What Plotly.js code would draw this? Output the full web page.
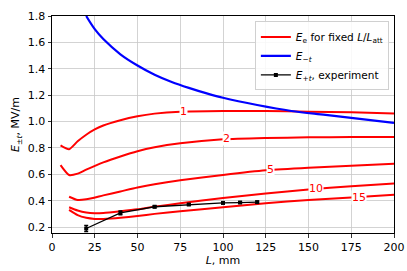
<!DOCTYPE html>
<html>
<head>
<meta charset="utf-8">
<script src="https://cdn.plot.ly/plotly-3.0.1.min.js"></script>
<style>html,body{margin:0;padding:0;background:#fff;}#chart{width:407px;height:271px;}</style>
</head>
<body>
<div id="chart"></div>
<script>
// Red curves: E_e for fixed L/L_att
const L_c1 = [5, 10, 15, 20, 25, 30, 40, 50, 60, 75, 100, 125, 150, 175, 200];
const E_c1 = [0.82, 0.79, 0.85, 0.90, 0.94, 0.97, 1.01, 1.04, 1.06, 1.075, 1.08, 1.08, 1.075, 1.07, 1.06];
const L_c2 = [5, 10, 15, 20, 30, 40, 50, 60, 75, 100, 125, 150, 175, 200];
const E_c2 = [0.67, 0.595, 0.605, 0.635, 0.69, 0.735, 0.775, 0.805, 0.835, 0.865, 0.875, 0.88, 0.882, 0.882];
const L_c5 = [10, 15, 20, 30, 40, 50, 60, 75, 100, 125, 150, 175, 200];
const E_c5 = [0.43, 0.405, 0.41, 0.44, 0.47, 0.50, 0.525, 0.555, 0.595, 0.63, 0.65, 0.665, 0.68];
const L_c10 = [10, 15, 20, 25, 30, 40, 50, 60, 75, 100, 125, 150, 175, 200];
const E_c10 = [0.35, 0.325, 0.31, 0.305, 0.307, 0.32, 0.335, 0.355, 0.38, 0.42, 0.455, 0.485, 0.51, 0.53];
const L_c15 = [10, 15, 20, 25, 30, 40, 50, 60, 75, 100, 125, 150, 175, 200];
const E_c15 = [0.33, 0.29, 0.27, 0.262, 0.262, 0.27, 0.283, 0.30, 0.32, 0.35, 0.38, 0.405, 0.425, 0.445];
// Contour labels (ratio L/L_att) and where they sit
const labelText = ["1", "2", "5", "10", "15"];
const labelL = [77, 102, 127.5, 154.6, 179.5];
const labelE = [1.078, 0.868, 0.635, 0.493, 0.425];
// Blue curve E_-t
const L_minus = [20, 25, 30, 40, 50, 60, 70, 80, 90, 100, 120, 140, 160, 180, 200];
const E_minus = [1.80, 1.70, 1.625, 1.51, 1.425, 1.355, 1.30, 1.255, 1.215, 1.18, 1.125, 1.08, 1.05, 1.02, 0.99];
// Experiment E_+t
const L_exp = [20, 40, 60, 80, 100, 110, 120];
const E_exp = [0.189, 0.307, 0.354, 0.371, 0.383, 0.386, 0.389];
const E_err = [0.024, 0.015, 0.008, 0.007, 0.007, 0.007, 0.007];
// Ticks
const xTicks = [0, 25, 50, 75, 100, 125, 150, 175, 200];
const yTicks = [0.2, 0.4, 0.6, 0.8, 1.0, 1.2, 1.4, 1.6, 1.8];

const redCurves = [[L_c1, E_c1], [L_c2, E_c2], [L_c5, E_c5], [L_c10, E_c10], [L_c15, E_c15]];
const traces = redCurves.map((c, i) => ({
  x: c[0], y: c[1], type: 'scatter', mode: 'lines',
  line: {color: '#ff0000', width: 2, shape: 'spline', smoothing: 0.6},
  name: '<i>E</i><sub>e</sub> for fixed <i>L</i>/<i>L</i><sub>att</sub>',
  legendgroup: 'red', showlegend: i === 0, hoverinfo: 'skip'
}));
traces.push({
  x: L_minus, y: E_minus, type: 'scatter', mode: 'lines',
  line: {color: '#0000ff', width: 2.2, shape: 'spline', smoothing: 1},
  name: '<i>E</i><sub>−<i>t</i></sub>'
});
traces.push({
  x: L_exp, y: E_exp, type: 'scatter', mode: 'lines+markers',
  line: {color: '#000000', width: 1.3},
  marker: {color: '#000000', size: 4, symbol: 'square'},
  error_y: {type: 'data', array: E_err, visible: true, color: '#000000', thickness: 1.3, width: 2},
  name: '<i>E</i><sub>+<i>t</i></sub>, experiment'
});

const annotations = labelText.map((t, i) => ({
  x: labelL[i], y: labelE[i], xref: 'x', yref: 'y', text: t, showarrow: false,
  font: {family: 'DejaVu Sans', size: 11, color: '#ff0000'},
  bgcolor: '#ffffff', borderpad: 0, xanchor: 'center', yanchor: 'middle'
}));

const axisCommon = {
  showgrid: true, gridcolor: '#c8c8c8', gridwidth: 0.8,
  showline: true, linecolor: '#000000', linewidth: 1, mirror: true,
  ticks: 'outside', ticklen: 3.5, tickcolor: '#000000', tickwidth: 0.8,
  zeroline: false, tickfont: {family: 'DejaVu Sans', size: 11, color: '#000000'}
};

const layout = {
  width: 407, height: 271,
  margin: {l: 52, r: 13, t: 16, b: 38},
  paper_bgcolor: '#ffffff', plot_bgcolor: '#ffffff',
  font: {family: 'DejaVu Sans', size: 11, color: '#000000'},
  showlegend: true,
  legend: {
    x: 0.985, y: 0.975, xanchor: 'right', yanchor: 'top',
    bgcolor: 'rgba(255,255,255,0.85)', bordercolor: '#d0d0d0', borderwidth: 1,
    font: {family: 'DejaVu Sans', size: 10.5, color: '#000000'},
    tracegroupgap: 0, itemwidth: 30
  },
  xaxis: Object.assign({}, axisCommon, {
    range: [0, 200], tickvals: xTicks, ticktext: xTicks.map(String),
    title: {text: '<i>L</i>, mm', font: {family: 'DejaVu Sans', size: 11}, standoff: 3}
  }),
  yaxis: Object.assign({}, axisCommon, {
    range: [0.155, 1.8], tickvals: yTicks, ticktext: yTicks.map(v => v.toFixed(1)),
    title: {text: '<i>E</i><sub>±<i>t</i></sub>, MV/m', font: {family: 'DejaVu Sans', size: 11}, standoff: 5}
  }),
  annotations: annotations
};

Plotly.newPlot('chart', traces, layout, {displayModeBar: false, staticPlot: true});
</script>
</body>
</html>
